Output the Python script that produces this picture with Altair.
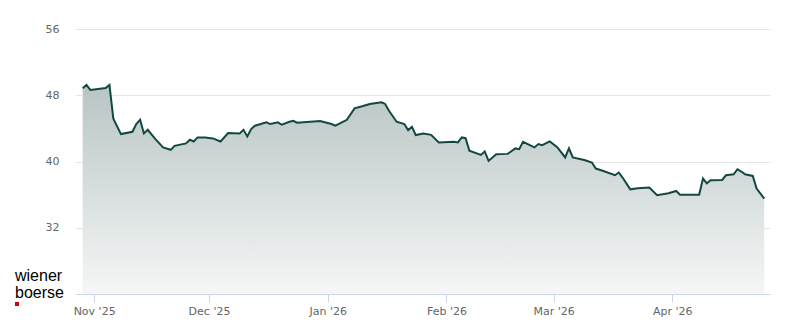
import altair as alt
import pandas as pd

dates = [
    "2025-10-29", "2025-10-30", "2025-10-31", "2025-11-02", "2025-11-04", "2025-11-05",
    "2025-11-06", "2025-11-08", "2025-11-11", "2025-11-12", "2025-11-13", "2025-11-14",
    "2025-11-15", "2025-11-17", "2025-11-19", "2025-11-21", "2025-11-22", "2025-11-25",
    "2025-11-26", "2025-11-27", "2025-11-28", "2025-11-30", "2025-12-02", "2025-12-04",
    "2025-12-06", "2025-12-09", "2025-12-10", "2025-12-11", "2025-12-12", "2025-12-13",
    "2025-12-16", "2025-12-17", "2025-12-19", "2025-12-20", "2025-12-22", "2025-12-23",
    "2025-12-24", "2025-12-30", "2026-01-02", "2026-01-03", "2026-01-06", "2026-01-08",
    "2026-01-10", "2026-01-12", "2026-01-15", "2026-01-16", "2026-01-17", "2026-01-19",
    "2026-01-21", "2026-01-22", "2026-01-23", "2026-01-24", "2026-01-26", "2026-01-28",
    "2026-01-30", "2026-02-03", "2026-02-04", "2026-02-05", "2026-02-06", "2026-02-07",
    "2026-02-10", "2026-02-11", "2026-02-12", "2026-02-14", "2026-02-17", "2026-02-19",
    "2026-02-20", "2026-02-21", "2026-02-24", "2026-02-25", "2026-02-26", "2026-02-28",
    "2026-03-02", "2026-03-04", "2026-03-05", "2026-03-06", "2026-03-09", "2026-03-11",
    "2026-03-12", "2026-03-14", "2026-03-17", "2026-03-18", "2026-03-19", "2026-03-21",
    "2026-03-23", "2026-03-26", "2026-03-28", "2026-03-31", "2026-04-02", "2026-04-03",
    "2026-04-08", "2026-04-09", "2026-04-10", "2026-04-11", "2026-04-14", "2026-04-15",
    "2026-04-17", "2026-04-18", "2026-04-19", "2026-04-20", "2026-04-22", "2026-04-23",
    "2026-04-25",
]
prices = [
    48.85, 49.25, 48.64, 48.76, 48.88, 49.25,
    45.21, 43.31, 43.59, 44.52, 45.04, 43.39,
    43.83, 42.70, 41.70, 41.41, 41.89, 42.18,
    42.62, 42.42, 42.91, 42.91, 42.79, 42.42,
    43.43, 43.39, 43.83, 43.03, 43.92, 44.32,
    44.73, 44.52, 44.73, 44.44, 44.80, 44.92,
    44.68, 44.89, 44.52, 44.32, 45.04, 46.42,
    46.67, 46.95, 47.15, 46.95, 46.13, 44.80,
    44.52, 43.79, 44.19, 43.19, 43.39, 43.22,
    42.30, 42.38, 42.30, 42.91, 42.82, 41.29,
    40.80, 41.21, 40.07, 40.89, 40.92, 41.58,
    41.49, 42.38, 41.70, 42.10, 41.98, 42.42,
    41.70, 40.49, 41.58, 40.49, 40.19, 39.88,
    39.15, 38.86, 38.34, 38.67, 38.06, 36.64,
    36.76, 36.85, 35.92, 36.16, 36.44, 36.00,
    36.00, 37.94, 37.37, 37.73, 37.77, 38.34,
    38.46, 39.07, 38.79, 38.46, 38.26, 36.73,
    35.52,
]
y_ticks = [32, 40, 48, 56]
month_ticks = [(2025, 11), (2025, 12), (2026, 1), (2026, 2), (2026, 3), (2026, 4)]
logo_lines = ["wiener", "boerse"]

df = pd.DataFrame({"date": dates, "price": prices})

LINE = "#124842"

x_enc = alt.X(
    "date:T",
    scale=alt.Scale(
        type="utc",
        domain=[
            alt.DateTime(year=2025, month=10, date=27, utc=True),
            alt.DateTime(year=2026, month=4, date=26, hours=12, utc=True),
        ],
    ),
    axis=alt.Axis(
        title=None,
        values=[alt.DateTime(year=y, month=m, date=1, utc=True) for y, m in month_ticks],
        format="%b '%y",
        grid=False,
        domainColor="#ccd6eb",
        tickColor="#ccd6eb",
        tickSize=8,
        labelPadding=3,
        labelColor="#666666",
        labelFontSize=11,
        labelFont="DejaVu Sans",
    ),
)
y_scale = alt.Scale(domain=[24, 56], nice=False, zero=False)
y_enc = alt.Y(
    "price:Q",
    scale=y_scale,
    axis=alt.Axis(
        title=None,
        values=y_ticks,
        domain=False,
        ticks=False,
        grid=True,
        gridColor="#e6e6e6",
        labelPadding=16,
        labelColor="#666666",
        labelFontSize=11,
        labelFont="DejaVu Sans",
    ),
)

base = alt.Chart(df)

area = base.mark_area(
    color=alt.Gradient(
        gradient="linear",
        stops=[
            alt.GradientStop(color="#b8c5c4", offset=0),
            alt.GradientStop(color="#f5f6f6", offset=1),
        ],
        x1=0, x2=0, y1=0, y2=1,
    )
).encode(x=x_enc, y=y_enc, y2=alt.datum(24))

line = base.mark_line(color=LINE, strokeWidth=2).encode(x=x_enc, y=y_enc)

logo_style = dict(align="left", baseline="alphabetic", font="Liberation Sans",
                  fontSize=16, color="#000000")
logo1 = alt.Chart(pd.DataFrame({"t": [logo_lines[0]]})).mark_text(**logo_style).encode(
    text="t:N", x=alt.value(-60), y=alt.value(252)
)
logo2 = alt.Chart(pd.DataFrame({"t": [logo_lines[1]]})).mark_text(**logo_style).encode(
    text="t:N", x=alt.value(-60), y=alt.value(269)
)
red = alt.Chart(pd.DataFrame({"k": [1]})).mark_rect(color="#d0021b").encode(
    x=alt.value(-60), x2=alt.value(-56), y=alt.value(273), y2=alt.value(277)
)

chart = alt.layer(area, line, logo1, logo2, red).properties(
    width=695,
    height=265,
    autosize=alt.AutoSizeParams(type="none"),
    padding={"left": 75, "top": 29, "right": 30, "bottom": 30},
).configure_view(stroke=None)

chart.save("out.html", embed_options={"renderer": "svg", "actions": False})
